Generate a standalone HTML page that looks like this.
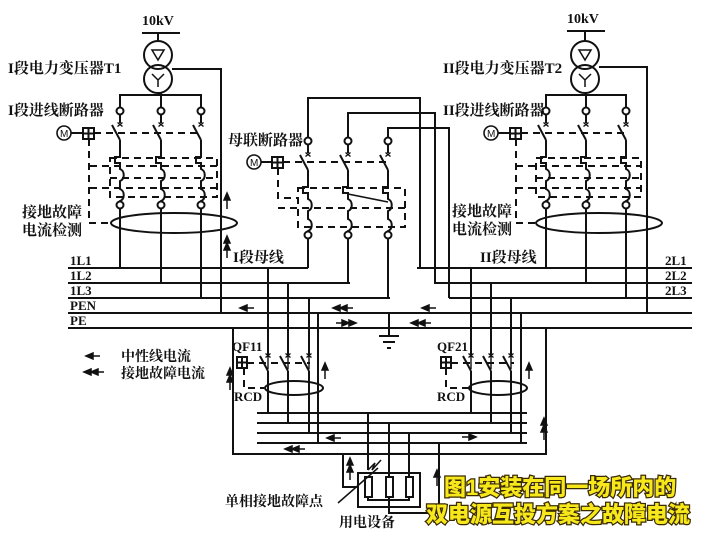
<!DOCTYPE html>
<html><head><meta charset="utf-8"><style>
html,body{margin:0;padding:0;background:#fff;}
svg{display:block;}
text{font-family:"Liberation Serif","Noto Serif CJK SC",serif;font-weight:bold;fill:#111;}
.ttl{font-family:"Liberation Sans","Noto Sans CJK SC",sans-serif;font-weight:900;fill:#f7e81c;stroke:#3a2a00;stroke-width:2.5px;paint-order:stroke;font-size:22px;}
.m{font-family:"Liberation Sans",sans-serif;font-size:10px;font-weight:normal;}
</style></head><body>
<svg width="709" height="544" viewBox="0 0 709 544" xmlns="http://www.w3.org/2000/svg">
<defs>
<g id="brk" stroke="#111" stroke-width="2" fill="none">
 <line x1="0" y1="3.5" x2="0" y2="12"/>
 <path d="M-2.5 11.5 L2.5 15.5 M2.5 11.5 L-2.5 15.5" stroke-width="1.4"/>
 <line x1="-8" y1="14" x2="0" y2="29"/>
 <path d="M0 29 V46 H-5 V52 H0 V58 C5 60 5 68 0 70 V78 C5 80 5 88 0 90 V94"/>
 <circle cx="0" cy="0" r="3.5" fill="#fff"/>
 <circle cx="0" cy="94" r="3.5" fill="#fff"/>
</g>
<g id="fb" stroke="#111" stroke-width="2" fill="none">
 <path d="M0 -4 V14 M-2.5 -1.5 L2.5 2.5 M2.5 -1.5 L-2.5 2.5" stroke-width="1.4"/>
 <line x1="-8" y1="1" x2="0" y2="16"/>
</g>
<path id="au" d="M0 0 L-3 7 L3 7 Z M0 5 V16" stroke="#111" stroke-width="1.5" fill="#111"/>
<path id="al" d="M0 0 L7 -3 L7 3 Z M5 0 H14" stroke="#111" stroke-width="1.5" fill="#111"/>
<path id="ar" d="M0 0 L-7 -3 L-7 3 Z M-5 0 H-14" stroke="#111" stroke-width="1.5" fill="#111"/>
<path id="all" d="M0 0 L7 -3 L7 3 Z M7 0 L14 -3 L14 3 Z M12 0 H20" stroke="#111" stroke-width="1.5" fill="#111"/>
<path id="arr" d="M0 0 L-7 -3 L-7 3 Z M-7 0 L-14 -3 L-14 3 Z M-12 0 H-20" stroke="#111" stroke-width="1.5" fill="#111"/>
<path id="auu" d="M0 0 L-3 7 L3 7 Z M0 7 L-3 14 L3 14 Z M0 12 V22" stroke="#111" stroke-width="1.5" fill="#111"/>
</defs>

<g stroke="#111" stroke-width="2" fill="none">
<line x1="142" y1="33" x2="180" y2="33"/><line x1="158" y1="33" x2="158" y2="41"/>
<circle cx="158" cy="55" r="14" fill="#fff"/><circle cx="158" cy="79" r="14"/>
<path d="M152 50 L164 50 L158 60 Z" stroke-width="1.5"/>
<path d="M152 74 L158 80 L164 74 M158 80 V87" stroke-width="1.5"/>
<path d="M172 69 H221 V313"/>
<path d="M120 111 V95 H201 V111 M158 93 H161 V111"/>
<line x1="567" y1="31" x2="605" y2="31"/><line x1="585" y1="31" x2="585" y2="41"/>
<circle cx="585" cy="55" r="14" fill="#fff"/><circle cx="585" cy="79" r="14"/>
<path d="M579 50 L591 50 L585 60 Z" stroke-width="1.5"/>
<path d="M579 74 L585 80 L591 74 M585 80 V87" stroke-width="1.5"/>
<path d="M599 67 H647 V313"/>
<path d="M546 111 V95 H626 V111 M585 93 H586 V111"/>
<path d="M120 205 V268 M161 205 V283 M201 205 V298"/>
<path d="M546 205 V268 M586 205 V283 M626 205 V298"/>
<path d="M308 141 V98 H420 V268 M348 141 V113 H435 V283 M388 141 V128 H449 V298"/>
<path d="M308 236 V268 M348 236 V283 M388 236 V298"/>
<path d="M68 268 H308 M68 283 H350 M68 298 H390 M68 313 H692 M68 328 H692 M417 268 H692 M434 283 H692 M449 298 H692"/>
<path d="M389 313 V336 M379 336 H399 M383 342 H395 M387 348 H391"/>
<path d="M268 268 V355 M288 283 V355 M309 298 V355 M318 313 V443"/>
<path d="M471 268 V355 M491 283 V355 M511 298 V355 M521 313 V443"/>
<path d="M268 371 V413 M288 371 V423 M309 371 V433"/>
<path d="M471 371 V413 M491 371 V423 M511 371 V433"/>
<path d="M233 328 V454 H546 V328"/>
<path d="M257 413 H527 M257 423 H527 M257 433 H527 M257 443 H527"/>
<path d="M368 413 V470 M389 423 V477 M409 433 V477 M439 443 V513 H389 V497"/>
<rect x="358" y="473" width="62" height="34"/>
<rect x="365" y="477" width="7" height="20" fill="#fff"/>
<rect x="386" y="477" width="7" height="20" fill="#fff"/>
<rect x="406" y="477" width="7" height="20" fill="#fff"/>
<path d="M368 497 V500 H409 V497"/>
<path d="M343 454 V487 H358"/>
<path d="M368 470 L375 463 L372 470 L381 460" stroke-width="1.5"/>
<line x1="338" y1="503" x2="378" y2="468" stroke-width="1.5"/>
<ellipse cx="174" cy="223" rx="63" ry="10"/>
<ellipse cx="599" cy="223" rx="63" ry="10"/>
<ellipse cx="294" cy="388" rx="29" ry="7"/>
<ellipse cx="498" cy="388" rx="29" ry="7"/>
<circle cx="64" cy="133" r="7" stroke-width="1.6"/><line x1="71" y1="133" x2="83" y2="133"/><rect x="83" y="128" width="11" height="11"/><line x1="88.5" y1="128" x2="88.5" y2="139"/><line x1="83" y1="133.5" x2="94" y2="133.5"/>
<circle cx="491" cy="133" r="7" stroke-width="1.6"/><line x1="498" y1="133" x2="510" y2="133"/><rect x="510" y="128" width="11" height="11"/><line x1="515.5" y1="128" x2="515.5" y2="139"/><line x1="510" y1="133.5" x2="521" y2="133.5"/>
<circle cx="254" cy="162" r="7" stroke-width="1.6"/><line x1="261" y1="162" x2="272" y2="162"/><rect x="272" y="157" width="11" height="11"/><line x1="277.5" y1="157" x2="277.5" y2="168"/><line x1="272" y1="162.5" x2="283" y2="162.5"/>
<rect x="237" y="357" width="10" height="11"/><line x1="242" y1="357" x2="242" y2="368"/><line x1="237" y1="362.5" x2="247" y2="362.5"/>
<rect x="441" y="357" width="10" height="11"/><line x1="446" y1="357" x2="446" y2="368"/><line x1="441" y1="362.5" x2="451" y2="362.5"/>
</g>
<text class="m" x="60" y="137">M</text>
<text class="m" x="487" y="137">M</text>
<text class="m" x="250" y="166">M</text>

<g stroke="#111" stroke-width="2" fill="none" stroke-dasharray="7,5">
<path d="M94 133 H200 M89 139 V223 H110 M90 166 H217 M110 178 H217 M90 188 H217"/>
<rect x="110" y="158" width="107" height="39"/>
<path d="M521 133 H626 M516 139 V223 H536 M516 166 H641 M536 178 H641 M516 188 H641"/>
<rect x="536" y="158" width="105" height="39"/>
<path d="M283 162 H388 M278 168 V198 H298 M278 208 H405"/>
<rect x="298" y="188" width="107" height="39"/>
<path d="M247 363 H310 M244 368 V388 H264"/>
<path d="M451 363 H514 M446 368 V388 H469"/>
</g>
<line x1="348" y1="194" x2="388" y2="202" stroke="#111" stroke-width="1.5"/>

<use href="#brk" x="120" y="111"/><use href="#brk" x="161" y="111"/><use href="#brk" x="201" y="111"/>
<use href="#brk" x="546" y="111"/><use href="#brk" x="586" y="111"/><use href="#brk" x="626" y="111"/>
<use href="#brk" x="308" y="141"/><use href="#brk" x="348" y="141"/><use href="#brk" x="388" y="141"/>
<use href="#fb" x="268" y="355"/><use href="#fb" x="288" y="355"/><use href="#fb" x="309" y="355"/>
<use href="#fb" x="471" y="355"/><use href="#fb" x="491" y="355"/><use href="#fb" x="511" y="355"/>

<use href="#au" x="227" y="193"/><use href="#auu" x="227" y="236"/>
<use href="#al" x="240" y="308"/><use href="#all" x="333" y="308"/><use href="#al" x="422" y="308"/>
<use href="#arr" x="356" y="323"/><use href="#all" x="411" y="323"/>
<use href="#au" x="325" y="363"/><use href="#au" x="529" y="363"/>
<use href="#auu" x="230" y="368"/><use href="#auu" x="544" y="418"/>
<use href="#al" x="327" y="438"/><use href="#ar" x="476" y="437"/><use href="#all" x="285" y="449"/>
<use href="#auu" x="350" y="458"/><use href="#au" x="437" y="470"/>
<use href="#al" x="86" y="356"/><use href="#all" x="84" y="372"/>

<text x="142" y="25" font-size="14">10kV</text>
<text x="567" y="23" font-size="14">10kV</text>
<text x="8" y="73" font-size="15">I段电力变压器T1</text>
<text x="8" y="115" font-size="15">I段进线断路器</text>
<text x="443" y="73" font-size="15">II段电力变压器T2</text>
<text x="443" y="115" font-size="15">II段进线断路器</text>
<text x="228" y="145" font-size="15">母联断路器</text>
<text x="22" y="217" font-size="15">接地故障</text>
<text x="22" y="235" font-size="15">电流检测</text>
<text x="452" y="216" font-size="15">接地故障</text>
<text x="452" y="234" font-size="15">电流检测</text>
<text x="233" y="262" font-size="15">I段母线</text>
<text x="480" y="262" font-size="15">II段母线</text>
<text x="70" y="265" font-size="13">1L1</text>
<text x="70" y="280" font-size="13">1L2</text>
<text x="70" y="295" font-size="13">1L3</text>
<text x="70" y="310" font-size="13">PEN</text>
<text x="70" y="325" font-size="13">PE</text>
<text x="665" y="265" font-size="13">2L1</text>
<text x="665" y="280" font-size="13">2L2</text>
<text x="665" y="295" font-size="13">2L3</text>
<text x="232" y="351" font-size="13">QF11</text>
<text x="437" y="351" font-size="13">QF21</text>
<text x="234" y="401" font-size="13">RCD</text>
<text x="437" y="401" font-size="13">RCD</text>
<text x="121" y="361" font-size="14">中性线电流</text>
<text x="121" y="378" font-size="14">接地故障电流</text>
<text x="225" y="506" font-size="14">单相接地故障点</text>
<text x="339" y="527" font-size="14">用电设备</text>
<text class="ttl" x="444" y="495">图1安装在同一场所内的</text>
<text class="ttl" x="426" y="522">双电源互投方案之故障电流</text>
</svg>
</body></html>
